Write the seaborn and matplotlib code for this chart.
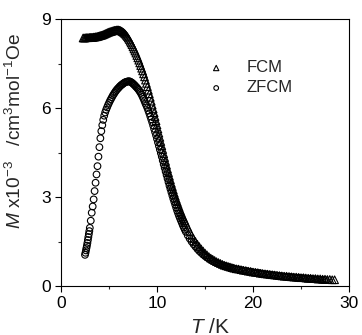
import matplotlib
matplotlib.use("Agg")
import matplotlib.pyplot as plt
import seaborn as sns
import numpy as np
from matplotlib.ticker import MultipleLocator

# ---------------- data ----------------
fcm_T = [2.3, 2.4, 2.5, 2.6, 2.7, 2.8, 2.9, 3.0, 3.1, 3.2, 3.3, 3.4, 3.5,
         3.6, 3.7, 3.8, 3.9, 4.0, 4.1, 4.2, 4.3, 4.4, 4.5, 4.6, 4.7, 4.8, 4.9, 5.0,
         5.1, 5.2, 5.3, 5.4, 5.5, 5.6, 5.7, 5.8, 5.9, 6.0,
         6.1, 6.2, 6.3, 6.4, 6.5, 6.6, 6.7, 6.8, 6.9, 7.0,
         7.1, 7.2, 7.3, 7.4, 7.5, 7.6, 7.7, 7.8, 7.9, 8.0,
         8.1, 8.2, 8.3, 8.4, 8.5, 8.6, 8.7, 8.8, 8.9, 9.0,
         9.1, 9.2, 9.3, 9.4, 9.5, 9.6, 9.7, 9.8, 9.9, 10.0,
         10.1, 10.2, 10.3, 10.4, 10.5, 10.6, 10.7, 10.8, 10.9, 11.0,
         11.1, 11.2, 11.3, 11.4, 11.5, 11.6, 11.7, 11.8, 11.9, 12.0,
         12.1, 12.2, 12.3, 12.4, 12.5, 12.6, 12.7, 12.8, 12.9, 13.0,
         13.2, 13.4, 13.6, 13.8, 14.0, 14.2, 14.4, 14.6, 14.8, 15.0,
         15.2, 15.4, 15.6, 15.8, 16.0, 16.2, 16.4, 16.6, 16.8, 17.0,
         17.2, 17.4, 17.6, 17.8, 18.0,
         18.25, 18.5, 18.75, 19.0, 19.25, 19.5, 19.75, 20.0, 20.25, 20.5,
         20.75, 21.0, 21.25, 21.5, 21.75, 22.0, 22.25, 22.5, 22.75, 23.0,
         23.25, 23.5, 23.75, 24.0, 24.25, 24.5, 24.75, 25.0, 25.25, 25.5,
         25.75, 26.0, 26.25, 26.5, 26.75, 27.0, 27.25, 27.5, 27.75, 28.0,
         28.25, 28.5]
fcm_M = [8.36, 8.36, 8.36, 8.37, 8.37, 8.37, 8.37, 8.38, 8.38, 8.38, 8.38, 8.39, 8.39,
         8.40, 8.40, 8.41, 8.42, 8.43, 8.44, 8.45, 8.46, 8.47, 8.49, 8.50, 8.52, 8.53, 8.55, 8.56,
         8.57, 8.58, 8.59, 8.60, 8.61, 8.62, 8.62, 8.63, 8.63, 8.63,
         8.62, 8.61, 8.59, 8.57, 8.55, 8.52, 8.49, 8.45, 8.41, 8.36,
         8.31, 8.25, 8.19, 8.13, 8.06, 7.99, 7.92, 7.85, 7.77, 7.69,
         7.61, 7.52, 7.43, 7.34, 7.25, 7.15, 7.05, 6.94, 6.83, 6.72,
         6.60, 6.48, 6.36, 6.23, 6.10, 5.97, 5.84, 5.71, 5.57, 5.43,
         5.29, 5.15, 5.01, 4.87, 4.73, 4.60, 4.46, 4.33, 4.20, 4.07,
         3.94, 3.82, 3.70, 3.58, 3.46, 3.35, 3.24, 3.13, 3.03, 2.93,
         2.84, 2.75, 2.66, 2.57, 2.49, 2.41, 2.33, 2.26, 2.19, 2.12,
         1.98, 1.84, 1.71, 1.60, 1.50, 1.41, 1.33, 1.25, 1.18, 1.11,
         1.05, 0.99, 0.94, 0.90, 0.86, 0.82, 0.79, 0.76, 0.73, 0.70,
         0.68, 0.66, 0.64, 0.62, 0.60,
         0.58, 0.57, 0.55, 0.53, 0.52, 0.50, 0.49, 0.47, 0.46, 0.45,
         0.43, 0.42, 0.41, 0.40, 0.39, 0.38, 0.37, 0.36, 0.35, 0.34,
         0.33, 0.33, 0.32, 0.31, 0.30, 0.30, 0.29, 0.28, 0.28, 0.27,
         0.26, 0.26, 0.25, 0.25, 0.24, 0.24, 0.23, 0.23, 0.22, 0.22,
         0.21, 0.21]

zfcm_T = [2.5, 2.55, 2.6, 2.65, 2.7, 2.75, 2.8, 2.85, 2.9, 2.95, 3.0,
          3.1, 3.2, 3.3, 3.4, 3.5, 3.6, 3.7, 3.8, 3.9, 4.0,
          4.1, 4.2, 4.3, 4.4, 4.5, 4.6, 4.7, 4.8, 4.9, 5.0,
          5.1, 5.2, 5.3, 5.4, 5.5, 5.6, 5.7, 5.8, 5.9, 6.0,
          6.1, 6.2, 6.3, 6.4, 6.5, 6.6, 6.7, 6.8, 6.9, 7.0,
          7.1, 7.2, 7.3, 7.4, 7.5, 7.6, 7.7, 7.8, 7.9, 8.0,
          8.1, 8.2, 8.3, 8.4, 8.5, 8.6, 8.7, 8.8, 8.9, 9.0,
          9.1, 9.2, 9.3, 9.4, 9.5, 9.6, 9.7, 9.8, 9.9, 10.0,
          10.1, 10.2, 10.3, 10.4, 10.5, 10.6, 10.7, 10.8, 10.9, 11.0,
          11.1, 11.2, 11.3, 11.4, 11.5, 11.6, 11.7, 11.8, 11.9, 12.0,
          12.1, 12.2, 12.3, 12.4, 12.5, 12.6, 12.7, 12.8, 12.9, 13.0,
          13.2, 13.4, 13.6, 13.8, 14.0, 14.2, 14.4, 14.6, 14.8, 15.0,
          15.2, 15.4, 15.6, 15.8, 16.0, 16.2, 16.4, 16.6, 16.8, 17.0,
          17.2, 17.4, 17.6, 17.8, 18.0,
          18.25, 18.5, 18.75, 19.0, 19.25, 19.5, 19.75, 20.0, 20.25, 20.5,
          20.75, 21.0, 21.25, 21.5, 21.75, 22.0, 22.25, 22.5, 22.75, 23.0,
          23.25, 23.5, 23.75, 24.0, 24.25, 24.5, 24.75, 25.0, 25.25, 25.5,
          25.75, 26.0, 26.25, 26.5, 26.75, 27.0, 27.25, 27.5]
zfcm_M = [1.05, 1.12, 1.20, 1.28, 1.36, 1.45, 1.55, 1.65, 1.75, 1.85, 1.96,
          2.20, 2.47, 2.68, 2.92, 3.20, 3.48, 3.76, 4.04, 4.36, 4.68,
          4.98, 5.22, 5.42, 5.60, 5.74, 5.85, 5.94, 6.02, 6.10, 6.17,
          6.24, 6.30, 6.36, 6.42, 6.47, 6.52, 6.57, 6.61, 6.65, 6.68,
          6.72, 6.75, 6.78, 6.80, 6.83, 6.85, 6.87, 6.88, 6.89, 6.90,
          6.90, 6.89, 6.87, 6.85, 6.82, 6.79, 6.76, 6.72, 6.69, 6.65,
          6.61, 6.56, 6.51, 6.45, 6.38, 6.31, 6.23, 6.15, 6.08, 6.00,
          5.91, 5.82, 5.72, 5.62, 5.52, 5.41, 5.30, 5.19, 5.08, 4.96,
          4.84, 4.72, 4.60, 4.48, 4.36, 4.23, 4.10, 3.98, 3.86, 3.74,
          3.62, 3.50, 3.38, 3.27, 3.16, 3.05, 2.94, 2.84, 2.74, 2.64,
          2.54, 2.45, 2.36, 2.28, 2.20, 2.12, 2.04, 1.97, 1.90, 1.83,
          1.71, 1.60, 1.50, 1.41, 1.33, 1.25, 1.18, 1.12, 1.06, 1.01,
          0.96, 0.92, 0.88, 0.84, 0.81, 0.78, 0.75, 0.72, 0.70, 0.68,
          0.66, 0.64, 0.62, 0.60, 0.59,
          0.57, 0.55, 0.54, 0.52, 0.51, 0.49, 0.48, 0.46, 0.45, 0.44,
          0.43, 0.41, 0.40, 0.39, 0.38, 0.37, 0.36, 0.35, 0.34, 0.33,
          0.32, 0.31, 0.31, 0.30, 0.29, 0.28, 0.28, 0.27, 0.26, 0.25,
          0.25, 0.24, 0.23, 0.22, 0.22, 0.21, 0.20, 0.20]

series_labels = ["FCM", "ZFCM"]
x_ticks = [0, 10, 20, 30]
y_ticks = [0, 3, 6, 9]

assert len(fcm_T) == len(fcm_M)
assert len(zfcm_T) == len(zfcm_M)

# ---------------- style ----------------
sns.set_theme(style="ticks")
plt.rcParams["font.family"] = ["Liberation Sans", "DejaVu Sans"]
plt.rcParams["mathtext.fontset"] = "custom"
plt.rcParams["mathtext.rm"] = "Liberation Sans"
plt.rcParams["mathtext.it"] = "Liberation Sans:italic"

fig = plt.figure(figsize=(3.62, 3.35), dpi=100)
ax = fig.add_axes([61 / 362, 1 - 286 / 335, 288 / 362, 267 / 335])

sns.scatterplot(x=fcm_T, y=fcm_M, ax=ax, marker="^", s=30, color="black",
                facecolor="none", edgecolor="black", linewidth=0.8,
                label=series_labels[0], zorder=2)
sns.scatterplot(x=zfcm_T, y=zfcm_M, ax=ax, marker="o", s=23, color="black",
                facecolor="none", edgecolor="black", linewidth=0.8,
                label=series_labels[1], zorder=3)

ax.set_xlim(0, 30)
ax.set_ylim(0, 9)
ax.set_xticks(x_ticks)
ax.set_yticks(y_ticks)
ax.xaxis.set_minor_locator(MultipleLocator(5))
ax.yaxis.set_minor_locator(MultipleLocator(1.5))
ax.tick_params(which="major", direction="out", length=4.5, width=0.8,
               labelsize=12.5, pad=3, colors="black")
ax.tick_params(which="minor", direction="out", length=2.5, width=0.8)
for sp in ax.spines.values():
    sp.set_linewidth(0.8)
    sp.set_color("black")
    sp.set_visible(True)

ax.set_xlabel(r"$\mathit{T}$ /K", fontsize=15)
ax.xaxis.set_label_coords(0.517, -0.118)
ax.set_ylabel(r"$\mathit{M}$ x10$^{-3}$   /cm$^{3}$mol$^{-1}$Oe", fontsize=13.8)
ax.yaxis.set_label_coords(-0.125, 0.58)

leg = ax.legend(loc="upper left", bbox_to_anchor=(0.481, 0.845),
                frameon=False, fontsize=12, markerscale=0.7,
                handlelength=2.0, handletextpad=0.8, labelspacing=0.3,
                borderpad=0, borderaxespad=0)

fig.savefig("out.png", dpi=100)
